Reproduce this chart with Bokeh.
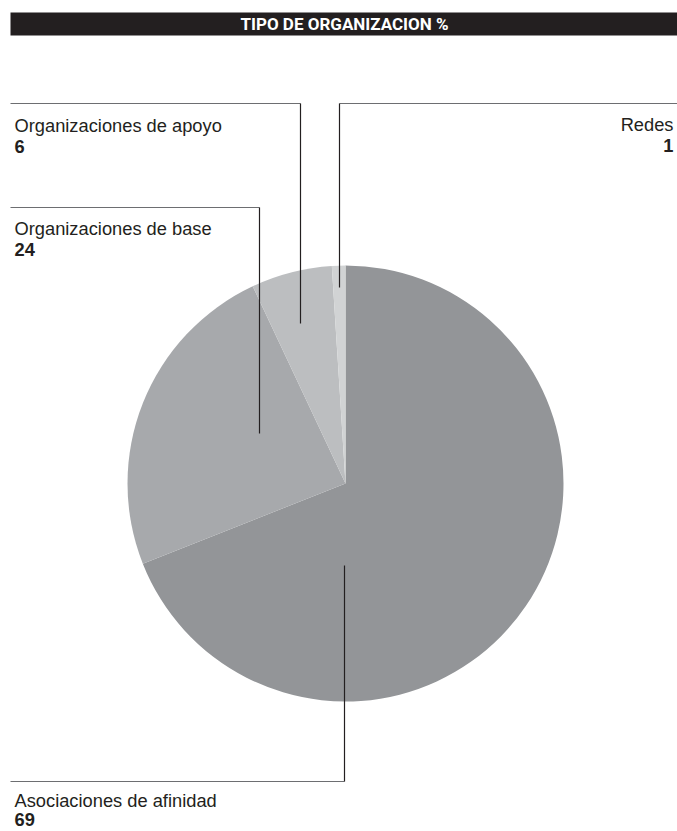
import math
from bokeh.plotting import figure
from bokeh.models import Range1d, ColumnDataSource
from bokeh.core.properties import value
from bokeh.embed import file_html
from bokeh.resources import INLINE

# ---- data ----
title = "TIPO DE ORGANIZACION %"
categories = ["Asociaciones de afinidad", "Organizaciones de base", "Organizaciones de apoyo", "Redes"]
values = [69, 24, 6, 1]
colors = ["#939598", "#a7a9ac", "#bcbec0", "#d1d3d4"]

# ---- layout (page pixels) ----
W, H = 677, 831
cx, cy, R = 345, 483, 218
TY = -7  # baseline correction

# label anchors: x, label baseline y, line gap, align
label_x = [14, 14, 14, 673]
label_y = [807, 235, 132, 131]
label_gap = [19, 21, 21, 21]
label_align = ["left", "left", "left", "right"]
# leader lines: (horizontal y, x_from, x_to, vertical x, vertical end y)
leaders = [
    (781, 10, 344, 344, 565),
    (207, 10, 259, 259, 433),
    (103, 10, 300, 300, 323),
    (103, 339, 677, 339, 287),
]

p = figure(width=W, height=H, output_backend="svg", toolbar_location=None,
           x_range=Range1d(0, W), y_range=Range1d(-H, 0),
           min_border=0, outline_line_color=None)
p.axis.visible = False
p.grid.visible = False
p.background_fill_color = "white"
p.border_fill_color = "white"

# title bar
p.quad(left=[10], right=[677], top=[-12], bottom=[-35], fill_color="#231f20", line_color=None)
p.text(x=[344], y=[-(30 + TY)], text=[title], text_color="white", text_font=value("Roboto"),
       text_font_style="bold", text_font_size="17px", text_align="center",
       text_baseline="alphabetic")

# pie (clockwise from 12 o'clock)
total = sum(values)
starts, ends = [], []
cum = 0
for v in values:
    a0 = math.pi / 2 - 2 * math.pi * cum / total
    cum += v
    a1 = math.pi / 2 - 2 * math.pi * cum / total
    starts.append(a1)
    ends.append(a0)
src = ColumnDataSource(dict(start=starts, end=ends, color=colors, cat=categories))
p.wedge(x=cx, y=-cy, radius=R, start_angle="start", end_angle="end",
        direction="anticlock", fill_color="color", line_color=None, source=src)

# leaders
for hy, x0, x1, vx, vy in leaders:
    p.line([x0, x1], [-hy, -hy], line_color="#6d6e71", line_width=1.2)
    p.line([vx, vx], [-hy, -vy], line_color="#231f20", line_width=1.2)

# labels
for cat, v, lx, ly, gap, al in zip(categories, values, label_x, label_y, label_gap, label_align):
    p.text(x=[lx], y=[-(ly + TY)], text=[cat], text_color="#231f20", text_font=value("Liberation Sans"),
           text_font_size="18.3px", text_align=al, text_baseline="alphabetic")
    p.text(x=[lx], y=[-(ly + gap + TY)], text=[str(v)], text_color="#231f20",
           text_font=value("Liberation Sans"), text_font_style="bold",
           text_font_size="18.3px", text_align=al, text_baseline="alphabetic")

open("out.html", "w").write(file_html(p, INLINE))
